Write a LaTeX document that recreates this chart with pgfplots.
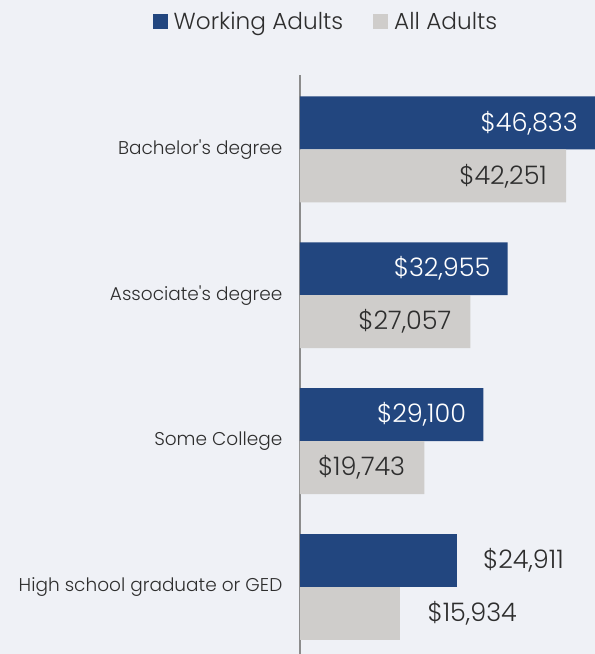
\documentclass[border=0pt]{standalone}
\usepackage{pgfplots}
\pgfplotsset{compat=1.18}
\usepackage{fontspec}
\setmainfont{Poppins}[UprightFont=* Light, Numbers=Monospaced]
\definecolor{bg}{HTML}{EFF1F6}
\definecolor{navy}{HTML}{22467F}
\definecolor{lgray}{HTML}{CFCDCB}
\definecolor{axgray}{HTML}{8C8C8C}
\definecolor{txt}{HTML}{2E2E2E}
\begin{document}
\begin{tikzpicture}
\path[use as bounding box, fill=bg] (0,0) rectangle (595pt,654pt);
\begin{axis}[
  at={(300pt,0pt)}, anchor=south west,
  scale only axis, width=295pt, height=579pt,
  xbar, bar width=0.363,
  xmin=0, xmax=46833, ymin=-0.46, ymax=3.51,
  enlargelimits=false, clip=false,
  axis x line=none, axis y line=left,
  axis line style={-, draw=axgray, line width=2pt},
  ytick={0,1,2,3},
  yticklabels={High school graduate or GED, Some College, Associate\textquotesingle s degree, Bachelor\textquotesingle s degree},
  ytick style={draw=none},
  yticklabel style={font=\fontsize{18.5}{22}\selectfont, text=txt, xshift=-12pt},
  point meta=explicit symbolic,
  nodes near coords,
  legend style={at={(0.088,1.0915)}, anchor=center, legend columns=2, draw=none, fill=none,
    font=\fontsize{23.2}{27}\selectfont, text=txt,
    /tikz/every even column/.append style={column sep=28pt}},
  legend image code/.code={\fill[#1] (0pt,-7pt) rectangle (15pt,8pt); \path (19pt,0pt);},
]
\addplot[fill=navy, draw=none, bar shift=0.1815,
  every node near coord/.append style={anchor=east, inner sep=0pt, xshift=-17pt, text=white, font=\fontsize{25.5}{30}\selectfont}]
  coordinates {(29100,1) [\$29,100] (32955,2) [\$32,955] (46833,3) [\$46,833]};
\addplot[fill=lgray, draw=none, bar shift=-0.1815,
  every node near coord/.append style={anchor=east, inner sep=0pt, xshift=-19pt, text=txt, font=\fontsize{25.5}{30}\selectfont}]
  coordinates {(19743,1) [\$19,743] (27057,2) [\$27,057] (42251,3) [\$42,251]};
\addplot[fill=navy, draw=none, bar shift=0.1815, forget plot,
  every node near coord/.append style={anchor=west, inner sep=0pt, xshift=26pt, text=txt, font=\fontsize{25.5}{30}\selectfont}]
  coordinates {(24911,0) [\$24,911]};
\addplot[fill=lgray, draw=none, bar shift=-0.1815, forget plot,
  every node near coord/.append style={anchor=west, inner sep=0pt, xshift=27pt, text=txt, font=\fontsize{25.5}{30}\selectfont}]
  coordinates {(15934,0) [\$15,934]};
\legend{Working Adults, All Adults}
\end{axis}
\end{tikzpicture}
\end{document}
